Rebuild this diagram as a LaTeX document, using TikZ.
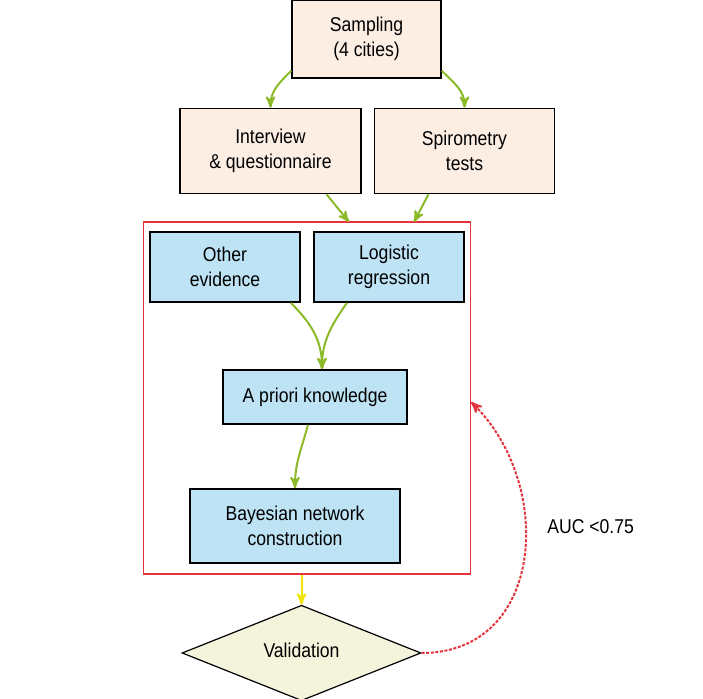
\documentclass[tikz,border=0pt]{standalone}
\usepackage{fontspec}
\setmainfont[FakeStretch=0.88]{Liberation Sans}
\usepackage{xcolor}
\usepackage{tikz}
\usetikzlibrary{shapes,arrows,positioning}
\tikzset{>=stealth'}
\definecolor{peach}{RGB}{253,238,228}
\definecolor{skyfill}{RGB}{190,227,245}
\definecolor{creamfill}{RGB}{244,244,220}
\definecolor{leafgreen}{RGB}{140,185,40}
\definecolor{framered}{RGB}{230,50,60}
\definecolor{lemon}{RGB}{240,228,0}

\begin{document}
\begin{tikzpicture}[x=0.5pt,y=0.5pt,
                          every node/.style={font=\fontsize{10}{12.5}\selectfont, align=center},
                          peachbox/.style={draw=black, line width=0.8pt, fill=peach, inner sep=0pt},
                          bluebox/.style={draw=black, line width=0.8pt, fill=skyfill, inner sep=0pt},
                          decision/.style={diamond, draw=black, line width=0.6pt, fill=creamfill, inner sep=0pt},
                          redframe/.style={draw=framered, line width=0.6pt, inner sep=0pt},
                          grarrow/.style={line width=1pt, leafgreen, ->},
                          yelarrow/.style={line width=1pt, lemon, ->},
                          loopback/.style={line width=1pt, framered, dash pattern=on 1.5pt off 0.8pt, ->},
                         ]

\useasboundingbox (0,0) rectangle (703,699);

% top row
\node[peachbox, minimum width=74.5pt, minimum height=39pt] (sampling) at (366.5,660) {Sampling\\(4 cities)};
\node[peachbox, minimum width=90.5pt, minimum height=42.5pt] (interview) at (270.5,548) {Interview\\\& questionnaire};
\node[peachbox, minimum width=90pt, minimum height=42.5pt] (spirometry) at (464.5,548) {Spirometry\\tests};

% model block
\node[redframe, minimum width=163.5pt, minimum height=176pt] (frame) at (307,301) {};
\node[bluebox, minimum width=75pt, minimum height=35pt] (other) at (225,432) {Other\\evidence};
\node[bluebox, minimum width=75pt, minimum height=35pt] (logistic) at (389,432) {Logistic\\regression};
\node[bluebox, minimum width=92pt, minimum height=27pt] (apriori) at (315,302) {A priori knowledge};
\node[bluebox, minimum width=105pt, minimum height=37pt] (bayes) at (295,173) {Bayesian network\\construction};

\node[decision, minimum width=119.5pt, minimum height=44pt] (validation) at (301.5,46) {\raisebox{2.5pt}{Validation}};
\node[anchor=west, inner sep=0pt] (auc) at (547,172) {AUC <0.75};

\coordinate (in1) at (349,477);
\coordinate (in2) at (414,477);

\draw[grarrow] ([yshift=4pt]sampling.south west) to[out=225,in=90] (interview.north);
\draw[grarrow] ([yshift=4pt]sampling.south east) to[out=-45,in=90] (spirometry.north);
\draw[grarrow] ([xshift=28pt]interview.south) -- (in1);
\draw[grarrow] ([xshift=-18pt]spirometry.south) -- (in2);

\draw[grarrow] ([xshift=-5pt]other.south east) to[out=-45,in=90] ([xshift=3.5pt]apriori.north);
\draw[grarrow] ([xshift=-21pt]logistic.south) to[out=-125,in=90] ([xshift=3.5pt]apriori.north);
\draw[grarrow] ([xshift=-3.5pt]apriori.south) to[out=-105,in=90] (bayes.north);

\draw[yelarrow] (validation.north |- frame.south) -- (validation.north);
\draw[loopback] (validation.east) .. controls (545,46) and (555,215) .. ([yshift=-2pt]frame.east);

\end{tikzpicture}
\end{document}
